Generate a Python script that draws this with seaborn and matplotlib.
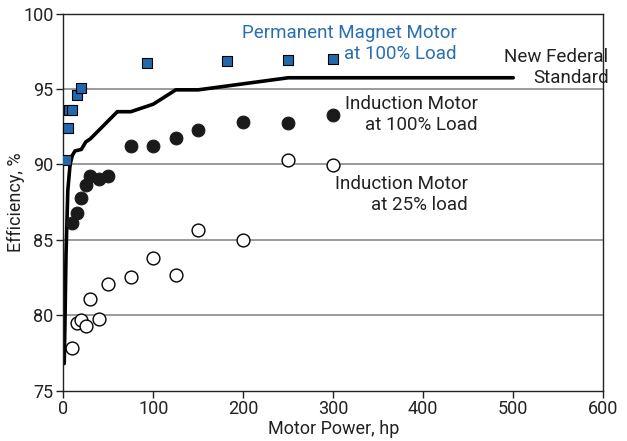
import seaborn as sns
import matplotlib.pyplot as plt
import pandas as pd

# values
std_hp = [1, 2, 3, 5, 7.5, 10, 13, 20, 25, 30, 40, 60, 75, 100, 125, 150, 200, 250, 500]
std_eff = [76.8, 80.2, 84.1, 88.3, 90.0, 90.6, 90.9, 91.0, 91.5, 91.7, 92.3, 93.5, 93.5,
           94.0, 94.95, 94.95, 95.35, 95.75, 95.75]

pm_hp = [3, 5, 6, 10, 15, 20, 93, 182, 250, 300]
pm_eff = [90.3, 92.45, 93.6, 93.6, 94.6, 95.07, 96.73, 96.84, 96.95, 97.0]

im_hp = [10, 15, 20, 25, 30, 40, 50, 75, 100, 125, 150, 200, 250, 300]
im100_eff = [86.1, 86.8, 87.8, 88.65, 89.25, 89.03, 89.25, 91.24, 91.24, 91.73, 92.28,
             92.79, 92.72, 93.25]
im25_eff = [77.84, 79.52, 79.7, 79.3, 81.07, 79.74, 82.06, 82.55, 83.83, 82.66, 85.67,
            84.98, 90.33, 89.98]

std = pd.DataFrame({'hp': std_hp, 'eff': std_eff})
pm = pd.DataFrame({'hp': pm_hp, 'eff': pm_eff})
im = pd.DataFrame({'hp': im_hp, 'eff100': im100_eff, 'eff25': im25_eff})

sns.set_style('ticks')
plt.rcParams['font.family'] = ['Roboto', 'DejaVu Sans']

fig = plt.figure(figsize=(6.27, 4.41), dpi=100)
ax = fig.add_axes([0.101, 0.114, 0.861, 0.855])

for y in [80, 85, 90, 95]:
    ax.axhline(y, color='#8a8a8a', lw=1.2, zorder=0)

sns.lineplot(data=std, x='hp', y='eff', color='black', lw=2.6, ax=ax, zorder=2)
sns.scatterplot(data=im, x='hp', y='eff25', marker='o', s=85, facecolor='white',
                edgecolor='black', linewidth=1.0, ax=ax, zorder=3)
sns.scatterplot(data=im, x='hp', y='eff100', marker='o', s=85, color='#1a1a1a',
                edgecolor='#1a1a1a', ax=ax, zorder=3)
sns.scatterplot(data=pm, x='hp', y='eff', marker='s', s=55, color='#2268ad',
                edgecolor='black', linewidth=0.8, ax=ax, zorder=4)

ax.set_xlim(0, 600)
ax.set_ylim(75, 100)
ax.set_xticks([0, 100, 200, 300, 400, 500, 600])
ax.set_yticks([75, 80, 85, 90, 95, 100])
ax.tick_params(labelsize=13, colors='#222222', length=5, width=1, pad=2)
for s in ax.spines.values():
    s.set_color('#222222')
    s.set_linewidth(1.0)
ax.set_xlabel('Motor Power, hp', fontsize=13, color='#222222', labelpad=1)
ax.set_ylabel('Efficiency, %', fontsize=13, color='#222222', labelpad=-1)

lbl = dict(fontsize=13.5, ha='right', va='center', multialignment='right', linespacing=1.2)
ax.text(437, 98.0, 'Permanent Magnet Motor\nat 100% Load', color='#2a6eb4', **lbl)
ax.text(606, 96.45, 'New Federal\nStandard', color='#222222', clip_on=False, **lbl)
ax.text(461, 93.33, 'Induction Motor\nat 100% Load', color='#222222', **lbl)
ax.text(450, 88.02, 'Induction Motor\nat 25% load', color='#222222', **lbl)

fig.savefig('out.png', dpi=100)
